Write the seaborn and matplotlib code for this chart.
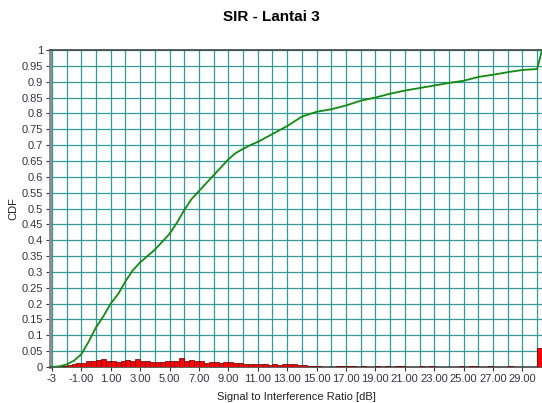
import numpy as np
import pandas as pd
import matplotlib
matplotlib.use("Agg")
import matplotlib.pyplot as plt
import seaborn as sns

# ---- data ----
title = "SIR - Lantai 3"
x_label = "Signal to Interference Ratio [dB]"
y_label = "CDF"

cdf_x = [-3.0, -2.5, -2.0, -1.5, -1.0, -0.5, 0.0, 0.5, 1.0, 1.5, 2.0, 2.5, 3.0, 3.5,
         4.0, 4.5, 5.0, 5.5, 6.0, 6.5, 7.0, 7.5, 8.0, 8.5, 9.0, 9.5, 10.0, 10.5,
         11.0, 12.0, 13.0, 14.0, 15.0, 16.0, 17.0, 18.0, 19.0, 20.0, 21.0, 22.0,
         23.0, 24.0, 25.0, 26.0, 27.0, 28.0, 29.0, 30.0, 30.33]
cdf_y = [0.0, 0.002, 0.008, 0.02, 0.04, 0.08, 0.125, 0.16, 0.2, 0.23, 0.27, 0.305,
         0.33, 0.35, 0.37, 0.395, 0.42, 0.455, 0.495, 0.53, 0.555, 0.58, 0.605, 0.63,
         0.655, 0.675, 0.688, 0.70, 0.71, 0.735, 0.76, 0.79, 0.805, 0.813, 0.825,
         0.84, 0.85, 0.862, 0.872, 0.88, 0.888, 0.896, 0.903, 0.915, 0.922, 0.93,
         0.937, 0.94, 1.0]

bin_start = -3.0
bin_width = 1.0 / 3.0
bin_heights = [
    0.0, 0.001, 0.002, 0.005, 0.010, 0.012, 0.012, 0.020, 0.020, 0.022,
    0.025, 0.018, 0.020, 0.016, 0.018, 0.022, 0.018, 0.025, 0.020, 0.020,
    0.015, 0.017, 0.017, 0.020, 0.020, 0.020, 0.027, 0.018, 0.023, 0.018,
    0.018, 0.014, 0.017, 0.017, 0.013, 0.017, 0.015, 0.013, 0.014, 0.008,
    0.008, 0.010, 0.008, 0.008, 0.006, 0.008, 0.007, 0.008, 0.008, 0.008,
    0.007, 0.005, 0.003, 0.004, 0.002, 0.0, 0.0, 0.0, 0.002, 0.003,
    0.002, 0.002, 0.0, 0.002, 0.0, 0.0, 0.004, 0.0, 0.002, 0.0,
    0.002, 0.002, 0.0, 0.0, 0.0, 0.003, 0.0, 0.003, 0.0, 0.0,
    0.0, 0.0, 0.0, 0.003, 0.0, 0.003, 0.003, 0.0, 0.0, 0.002,
    0.0, 0.0, 0.0, 0.003, 0.0, 0.0, 0.001, 0.0, 0.0, 0.060,
]

x_ticks = [-3] + list(range(-1, 30, 2))
x_tick_labels = ["-3"] + [f"{v:.2f}" for v in range(-1, 30, 2)]
y_ticks = [round(0.05 * i, 2) for i in range(21)]
y_tick_labels = ["0"] + [f"{v:g}" for v in y_ticks[1:-1]] + ["1"]

# ---- plotting ----
sns.set_theme(style="white")
plt.rcParams["font.family"] = ["Liberation Sans", "DejaVu Sans"]

fig = plt.figure(figsize=(5.42, 4.03), dpi=100)
ax = fig.add_axes([50 / 542, 1 - 367 / 403, 492 / 542, (367 - 50) / 403])

n_bins = len(bin_heights)
centers = bin_start + bin_width * (np.arange(n_bins) + 0.5)
hist_df = pd.DataFrame({"x": centers, "w": bin_heights})
sns.histplot(data=hist_df, x="x", weights="w", bins=n_bins,
             binrange=(bin_start, bin_start + bin_width * n_bins), ax=ax,
             color="#ff0000", edgecolor="#5a0000", linewidth=0.5, alpha=1.0,
             zorder=3)

line_df = pd.DataFrame({"x": cdf_x, "y": cdf_y})
sns.lineplot(data=line_df, x="x", y="y", ax=ax, color="#128a12", linewidth=1.3,
             zorder=4)

ax.set_xlim(-3.13, 30.33)
ax.set_ylim(0, 1)

grid_color = "#339999"
for gx in range(-3, 31):
    ax.axvline(gx, color=grid_color, linewidth=0.9, zorder=1)
for gy in y_ticks:
    ax.axhline(gy, color=grid_color, linewidth=0.9, zorder=1)

ax.set_xticks(x_ticks)
ax.set_xticklabels(x_tick_labels)
ax.set_yticks(y_ticks)
ax.set_yticklabels(y_tick_labels)
ax.tick_params(axis="both", labelsize=8, colors="#333344", length=3, width=0.8,
               direction="out", pad=2, bottom=True, left=True)

ax.set_xlabel(x_label, fontsize=8, color="#222222", labelpad=6)
ax.set_ylabel(y_label, fontsize=8, color="#222222", labelpad=2)
fig.suptitle(title, fontsize=11, fontweight="bold", x=0.5, y=0.975, color="black")

for side in ["left", "bottom", "top"]:
    ax.spines[side].set_visible(True)
    ax.spines[side].set_color("#444444")
    ax.spines[side].set_linewidth(1.2)
ax.spines["left"].set_color("#888888")
ax.spines["left"].set_linewidth(2)
ax.spines["right"].set_visible(False)

fig.savefig("out.png", dpi=100)
